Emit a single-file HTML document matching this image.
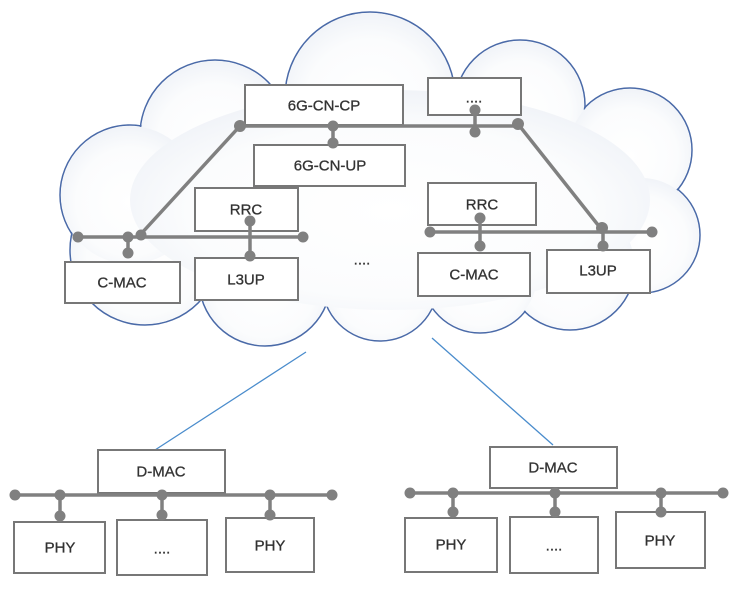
<!DOCTYPE html>
<html><head><meta charset="utf-8"><style>
body{margin:0;background:#fff}
svg text{font-family:"Liberation Sans",sans-serif;font-size:15px;fill:#333;text-anchor:middle;dominant-baseline:central;stroke:#333;stroke-width:0.3}
</style></head><body>
<svg width="729" height="587" viewBox="0 0 729 587" xmlns="http://www.w3.org/2000/svg">
<defs>
<radialGradient id="g" cx="0.5" cy="0.55" r="0.65"><stop offset="0" stop-color="#ffffff"/><stop offset="0.6" stop-color="#fbfcfd"/><stop offset="1" stop-color="#eaeef5"/></radialGradient>
</defs>
<g stroke="#4a6aa8" stroke-width="1.5" fill="none">
<circle cx="215" cy="135" r="75"/><circle cx="370" cy="97" r="85"/><circle cx="520" cy="105" r="65"/>
<circle cx="630" cy="150" r="62"/><circle cx="642" cy="235" r="58"/><circle cx="570" cy="265" r="65"/>
<circle cx="480" cy="275" r="58"/><circle cx="380" cy="283" r="58"/><circle cx="265" cy="280" r="66"/>
<circle cx="145" cy="250" r="75"/><circle cx="130" cy="195" r="70"/>
</g>
<g fill="url(#g)">
<circle cx="215" cy="135" r="74"/><circle cx="370" cy="97" r="84"/><circle cx="520" cy="105" r="64"/>
<circle cx="630" cy="150" r="61"/><circle cx="642" cy="235" r="57"/><circle cx="570" cy="265" r="64"/>
<circle cx="480" cy="275" r="57"/><circle cx="380" cy="283" r="57"/><circle cx="265" cy="280" r="65"/>
<circle cx="145" cy="250" r="74"/><circle cx="130" cy="195" r="69"/>
<ellipse cx="390" cy="200" rx="260" ry="110"/>
</g>
<g stroke="#4a8ccc" stroke-width="1.3"><line x1="306" y1="352" x2="155" y2="450"/><line x1="432" y1="338" x2="553" y2="445"/></g>
<g fill="#fff" stroke="#777" stroke-width="2">
<rect x="245" y="85" width="158" height="40"/><rect x="428" y="78" width="93" height="37"/>
<rect x="254" y="145" width="151" height="41"/><rect x="195" y="188" width="103" height="43"/>
<rect x="428" y="183" width="108" height="42"/><rect x="65" y="262" width="115" height="41"/>
<rect x="195" y="258" width="103" height="42"/><rect x="418" y="253" width="112" height="43"/>
<rect x="547" y="250" width="103" height="43"/>
<rect x="98" y="450" width="127" height="43"/><rect x="14" y="522" width="91" height="51"/>
<rect x="117" y="520" width="90" height="55"/><rect x="226" y="518" width="88" height="54"/>
<rect x="490" y="447" width="127" height="41"/><rect x="405" y="518" width="92" height="54"/>
<rect x="510" y="517" width="88" height="56"/><rect x="616" y="512" width="89" height="56"/>
</g>
<g stroke="#808080" stroke-width="3.5" fill="none">
<line x1="240" y1="126" x2="518" y2="126"/><line x1="240" y1="126" x2="140" y2="235"/><line x1="518" y1="124" x2="602" y2="230"/>
<line x1="333" y1="126" x2="333" y2="143"/><line x1="475" y1="110" x2="475" y2="132"/>
<line x1="78" y1="237" x2="303" y2="237"/><line x1="128" y1="237" x2="128" y2="253"/><line x1="250" y1="220" x2="250" y2="256"/>
<line x1="430" y1="232" x2="652" y2="232"/><line x1="480" y1="217" x2="480" y2="247"/><line x1="603" y1="228" x2="603" y2="246"/>
<line x1="15" y1="495" x2="332" y2="495"/><line x1="60" y1="495" x2="60" y2="516"/><line x1="162" y1="495" x2="162" y2="515"/><line x1="270" y1="495" x2="270" y2="515"/>
<line x1="410" y1="493" x2="723" y2="493"/><line x1="453" y1="493" x2="453" y2="512"/><line x1="555" y1="493" x2="555" y2="512"/><line x1="661" y1="493" x2="661" y2="512"/>
</g>
<g fill="#808080">
<circle cx="240" cy="126" r="6"/><circle cx="333" cy="126" r="5.5"/><circle cx="333" cy="143" r="5.5"/><circle cx="475" cy="110" r="5.5"/><circle cx="475" cy="132" r="5.5"/><circle cx="518" cy="124" r="6"/>
<circle cx="78" cy="237" r="5.5"/><circle cx="128" cy="237" r="5.5"/><circle cx="141" cy="235" r="5.5"/><circle cx="303" cy="237" r="5.5"/><circle cx="128" cy="253" r="5.5"/>
<circle cx="250" cy="221" r="5.5"/><circle cx="250" cy="256" r="5.5"/>
<circle cx="430" cy="232" r="5.5"/><circle cx="480" cy="218" r="5.5"/><circle cx="480" cy="246" r="5.5"/><circle cx="602" cy="228" r="6"/><circle cx="603" cy="246" r="5.5"/><circle cx="652" cy="232" r="5.5"/>
<circle cx="15" cy="495" r="5.5"/><circle cx="60" cy="495" r="5.5"/><circle cx="162" cy="495" r="5.5"/><circle cx="270" cy="495" r="5.5"/><circle cx="332" cy="495" r="5.5"/>
<circle cx="60" cy="516" r="5.5"/><circle cx="162" cy="515" r="5.5"/><circle cx="270" cy="515" r="5.5"/>
<circle cx="410" cy="493" r="5.5"/><circle cx="453" cy="493" r="5.5"/><circle cx="555" cy="493" r="5.5"/><circle cx="661" cy="493" r="5.5"/><circle cx="723" cy="493" r="5.5"/>
<circle cx="453" cy="512" r="5.5"/><circle cx="555" cy="512" r="5.5"/><circle cx="661" cy="512" r="5.5"/>
</g>
<text x="324" y="106">6G-CN-CP</text><text x="474" y="98">....</text><text x="330" y="166">6G-CN-UP</text>
<text x="246" y="210">RRC</text><text x="482" y="205">RRC</text><text x="122" y="283">C-MAC</text><text x="246" y="280">L3UP</text>
<text x="474" y="275">C-MAC</text><text x="598" y="271">L3UP</text><text x="362" y="260">....</text>
<text x="161" y="472">D-MAC</text><text x="60" y="548">PHY</text><text x="162" y="549">....</text><text x="270" y="546">PHY</text>
<text x="553" y="468">D-MAC</text><text x="451" y="545">PHY</text><text x="554" y="546">....</text><text x="660" y="541">PHY</text>
</svg>
</body></html>
